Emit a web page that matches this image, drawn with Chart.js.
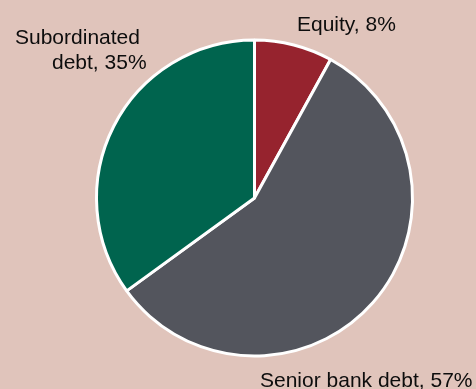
<!DOCTYPE html>
<html>
<head>
<meta charset="utf-8">
<script src="https://cdn.jsdelivr.net/npm/chart.js@4.4.1/dist/chart.umd.min.js"></script>
<style>
  html,body{margin:0;padding:0;background:#e0c4bb;}
  #wrap{width:476px;height:389px;position:relative;}
</style>
</head>
<body>
<div id="wrap"><canvas id="chart"></canvas></div>
<script>
/* ---- data ---- */
const categories = ['Equity', 'Senior bank debt', 'Subordinated debt'];
const shares     = [8, 57, 35];
const colours    = ['#96232e', '#53555d', '#00644e'];

/* label lines per slice, with where they sit on the canvas */
const labelLines = [
  [{ text: categories[0] + ', ' + shares[0] + '%', x: 297, y: 31 }],
  [{ text: categories[1] + ', ' + shares[1] + '%', x: 260, y: 387 }],
  [{ text: 'Subordinated', x: 15, y: 44 },
   { text: 'debt, ' + shares[2] + '%', x: 52, y: 69 }]
];

/* ---- slice labels ---- */
const sliceLabels = {
  id: 'sliceLabels',
  afterDraw(chart) {
    const c = chart.ctx;
    c.save();
    c.fillStyle = '#0d0d0d';
    c.font = '21px "Liberation Sans", Arial, sans-serif';
    c.textAlign = 'left';
    c.textBaseline = 'alphabetic';
    labelLines.forEach(lines => lines.forEach(l => c.fillText(l.text, l.x, l.y)));
    c.restore();
  }
};

/* ---- Chart.js ---- */
new Chart(document.getElementById('chart'), {
  type: 'pie',
  data: {
    labels: categories,
    datasets: [{
      data: shares,
      backgroundColor: colours,
      borderColor: '#ffffff',
      borderWidth: 3
    }]
  },
  options: {
    responsive: true,
    maintainAspectRatio: false,
    animation: false,
    layout: { padding: { left: 95, right: 62, top: 38, bottom: 31 } },
    plugins: { legend: { display: false }, tooltip: { enabled: false } }
  },
  plugins: [sliceLabels]
});
</script>
</body>
</html>
